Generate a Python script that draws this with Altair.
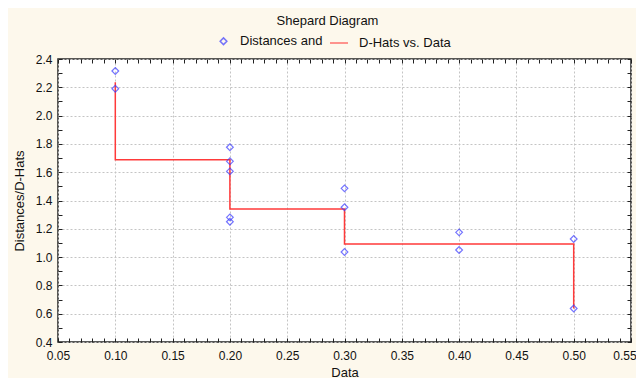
import altair as alt
import pandas as pd

# ---- data ----
series_names = ["Distances and", "D-Hats vs. Data"]
points_x = [0.1, 0.1, 0.2, 0.2, 0.2, 0.2, 0.2, 0.3, 0.3, 0.3, 0.4, 0.4, 0.5, 0.5]
points_y = [2.315, 2.19, 1.776, 1.677, 1.606, 1.281, 1.250, 1.486, 1.352, 1.036, 1.175, 1.050, 1.128, 0.637]
line_x = [0.1, 0.1, 0.2, 0.2, 0.3, 0.3, 0.5, 0.5]
line_y = [2.235, 1.688, 1.688, 1.34, 1.34, 1.093, 1.093, 0.637]
x_label_ticks = [0.05, 0.10, 0.15, 0.20, 0.25, 0.30, 0.35, 0.40, 0.45, 0.50, 0.55]
y_label_ticks = [0.4, 0.6, 0.8, 1.0, 1.2, 1.4, 1.6, 1.8, 2.0, 2.2, 2.4]
x_minor_ticks = [round(0.05 + 0.01 * i, 2) for i in range(51)]
y_minor_ticks = [round(0.4 + 0.1 * i, 1) for i in range(21)]

pts = pd.DataFrame({"x": points_x, "y": points_y, "series": series_names[0]})
ln = pd.DataFrame({"x": line_x, "y": line_y, "series": series_names[1], "i": list(range(len(line_x)))})

FONT = "Liberation Sans"
BLUE = "#3a3aff"
RED = "#ff3a3a"
TXT = "#111111"

xscale = alt.Scale(domain=[0.05, 0.55], nice=False, zero=False)
yscale = alt.Scale(domain=[0.4, 2.4], nice=False, zero=False)

color = alt.Color("series:N", scale=alt.Scale(domain=series_names, range=[BLUE, RED]),
                  legend=alt.Legend(title=None, orient="none", legendX=159, legendY=-26,
                                    direction="horizontal", labelFont=FONT, labelFontSize=13,
                                    labelColor=TXT, symbolStrokeWidth=1.5,
                                    labelOffset=10, columnPadding=4, padding=0))
shape = alt.Shape("series:N", scale=alt.Scale(domain=series_names, range=["diamond", "stroke"]))
size = alt.Size("series:N", scale=alt.Scale(domain=series_names, range=[45, 324]))

label_axis_x = alt.Axis(orient="bottom", values=x_label_ticks, format=".2f", ticks=False, domain=False,
                        grid=True, gridColor="#c4c4c4", gridDash=[2, 2], gridWidth=1,
                        labelFont=FONT, labelFontSize=12, labelColor=TXT, labelPadding=8,
                        labelFlush=False,
                        labelOffset=alt.condition("datum.value >= 0.549", alt.value(-6.5), alt.value(0)),
                        title="Data", titleFont=FONT, titleFontSize=13, titleFontWeight="normal",
                        titleColor=TXT, titlePadding=5)
label_axis_y = alt.Axis(orient="left", values=y_label_ticks, format=".1f", ticks=False, domain=False,
                        grid=True, gridColor="#c4c4c4", gridDash=[2, 2], gridWidth=1,
                        labelFont=FONT, labelFontSize=12, labelColor=TXT, labelPadding=6,
                        labelFlush=False,
                        title="Distances/D-Hats", titleFont=FONT, titleFontSize=13,
                        titleFontWeight="normal", titleColor=TXT, titlePadding=9)

def tick_axis(orient, values):
    return alt.Axis(orient=orient, values=values, labels=False, domain=False, grid=False,
                    ticks=True, tickSize=4, offset=-4, tickColor="#222222", tickWidth=1, title=None)

points = alt.Chart(pts).mark_point(filled=False, strokeWidth=1.2).encode(
    x=alt.X("x:Q", scale=xscale, axis=label_axis_x),
    y=alt.Y("y:Q", scale=yscale, axis=label_axis_y),
    color=color, shape=shape, size=size,
)

line = alt.Chart(ln).mark_line(strokeWidth=1.5).encode(
    x=alt.X("x:Q", scale=xscale, axis=tick_axis("bottom", x_minor_ticks)),
    y=alt.Y("y:Q", scale=yscale, axis=tick_axis("left", y_minor_ticks)),
    color=color,
    order="i:Q",
)

ghost = alt.Chart(pts).mark_point(opacity=0).encode(
    x=alt.X("x:Q", scale=xscale, axis=tick_axis("top", x_minor_ticks)),
    y=alt.Y("y:Q", scale=yscale, axis=tick_axis("right", y_minor_ticks)),
)

chart = alt.layer(line, points, ghost).resolve_axis(x="independent", y="independent").properties(
    width=573, height=283,
    title=alt.Title("Shepard Diagram", font=FONT, fontSize=13, fontWeight="normal", color=TXT,
                    anchor="middle", dx=-17, offset=5),
    autosize=alt.AutoSizeParams(type="none"),
    padding={"left": 50, "top": 51, "right": 5, "bottom": 36},
    background="#fdf8ec",
).configure_view(fill="white", stroke="#222222", strokeWidth=1.5)

chart.save("out.html", embed_options={"renderer": "svg", "actions": False})
